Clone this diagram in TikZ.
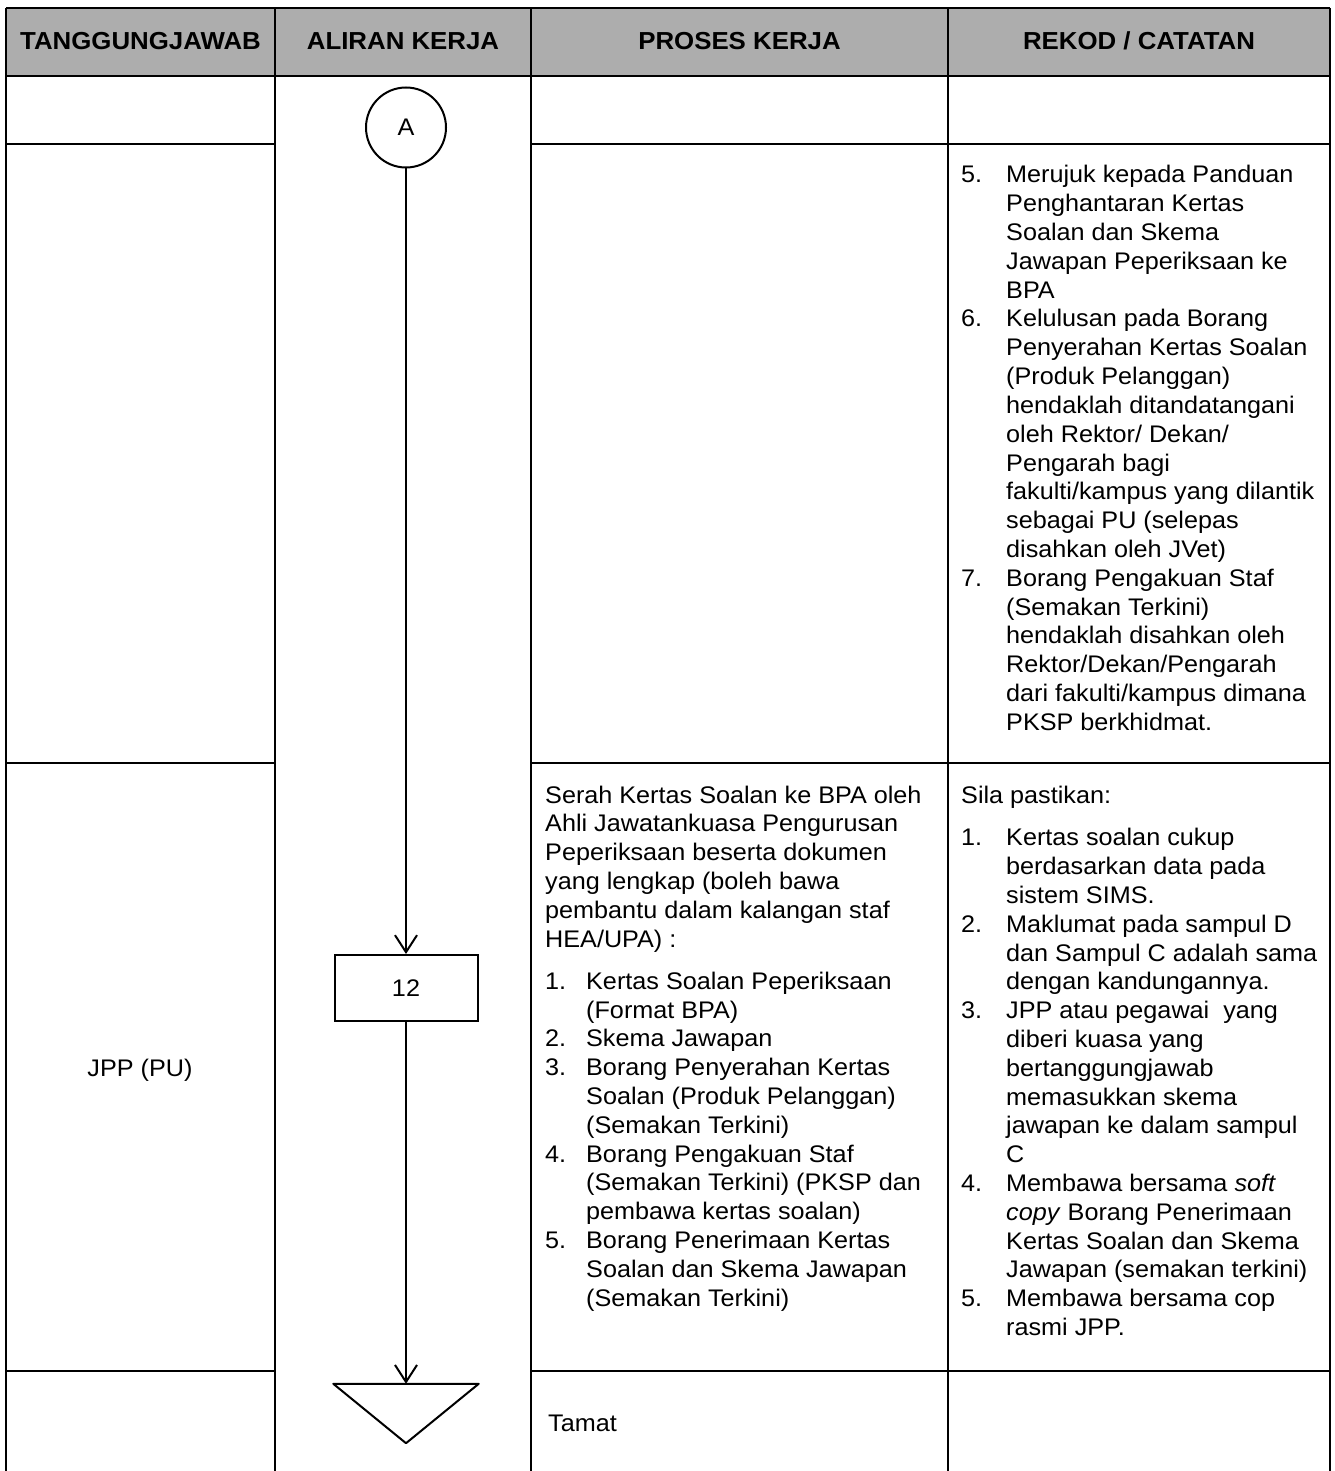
\documentclass[tikz,border=0pt]{standalone}
\usepackage{fontspec}
\setmainfont{Liberation Sans}[FakeStretch=1.05]
\usetikzlibrary{arrows.meta}
\begin{document}
\begin{tikzpicture}[x=1pt,y=-1pt,
  tbl/.style={line width=2pt},
  flow/.style={line width=2pt},
  txt/.style={inner sep=0pt, font=\fontsize{24}{28.8}\selectfont},
  hdr/.style={inner sep=0pt, font=\fontsize{24.6}{28.8}\selectfont\bfseries, anchor=base},
  arr/.style={flow, -{Straight Barb[length=17pt,width=22pt]}},
  shape1/.style={draw, line width=2pt, inner sep=0pt, font=\fontsize{24}{28.8}\selectfont},
]
\useasboundingbox (0,0) rectangle (1334,1471);
% header
\fill[black!32] (6,8) rectangle (1330,76);
\draw[tbl] (6,8) -- (1330,8);
\draw[tbl] (6,76) -- (1330,76);
\foreach \x in {6,275,531,948,1330} \draw[tbl] (\x,8) -- (\x,1471);
\foreach \y in {144,763,1371} {
  \draw[tbl] (6,\y) -- (275,\y);
  \draw[tbl] (531,\y) -- (1330,\y);
}
\node[hdr] (h1) at (140.5,50) {TANGGUNGJAWAB};
\node[hdr] (h2) at (403,50) {ALIRAN KERJA};
\node[hdr] (h3) at (739.5,50) {PROSES KERJA};
\node[hdr] (h4) at (1139,50) {REKOD / CATATAN};

% flow shapes
\node[shape1, circle, minimum size=80pt] (A) at (406,127.5) {A};
\node[shape1, rectangle, minimum width=143pt, minimum height=66pt] (b12) at (406,988) {12};
\node[inner sep=0pt, minimum width=145pt, minimum height=59pt] (tri) at (406,1413.5) {};
\draw[flow, line join=round] (tri.north west) -- (tri.north east) -- (tri.south) -- cycle;
\draw[arr] (A) -- (b12);
\draw[arr] (b12) -- (tri.north);

% responsibility
\node[txt, anchor=base] (jpp) at (140,1076) {JPP (PU)};

% row 2 rekod
\node[txt, anchor=base west] (r2) at (961,183) {\begin{tabular}[t]{@{}p{45pt}@{}l@{}}
5. & Merujuk kepada Panduan\\
 & Penghantaran Kertas\\
 & Soalan dan Skema\\
 & Jawapan Peperiksaan ke\\
 & BPA\\
6. & Kelulusan pada Borang\\
 & Penyerahan Kertas Soalan\\
 & (Produk Pelanggan)\\
 & hendaklah ditandatangani\\
 & oleh Rektor/ Dekan/\\
 & Pengarah bagi\\
 & fakulti/kampus yang dilantik\\
 & sebagai PU (selepas\\
 & disahkan oleh JVet)\\
7. & Borang Pengakuan Staf\\
 & (Semakan Terkini)\\
 & hendaklah disahkan oleh\\
 & Rektor/Dekan/Pengarah\\
 & dari fakulti/kampus dimana\\
 & PKSP berkhidmat.
\end{tabular}};

% row 3 proses
\node[txt, anchor=base west] (p3) at (545,803) {\begin{tabular}[t]{@{}p{41pt}@{}l@{}}
\multicolumn{2}{@{}l@{}}{Serah Kertas Soalan ke BPA oleh}\\
\multicolumn{2}{@{}l@{}}{Ahli Jawatankuasa Pengurusan}\\
\multicolumn{2}{@{}l@{}}{Peperiksaan beserta dokumen}\\
\multicolumn{2}{@{}l@{}}{yang lengkap (boleh bawa}\\
\multicolumn{2}{@{}l@{}}{pembantu dalam kalangan staf}\\
\multicolumn{2}{@{}l@{}}{HEA/UPA) :}\\[13.5pt]
1. & Kertas Soalan Peperiksaan\\
 & (Format BPA)\\
2. & Skema Jawapan\\
3. & Borang Penyerahan Kertas\\
 & Soalan (Produk Pelanggan)\\
 & (Semakan Terkini)\\
4. & Borang Pengakuan Staf\\
 & (Semakan Terkini) (PKSP dan\\
 & pembawa kertas soalan)\\
5. & Borang Penerimaan Kertas\\
 & Soalan dan Skema Jawapan\\
 & (Semakan Terkini)
\end{tabular}};

% row 3 rekod
\node[txt, anchor=base west] (r3) at (961,803) {\begin{tabular}[t]{@{}p{45pt}@{}l@{}}
\multicolumn{2}{@{}l@{}}{Sila pastikan:}\\[14pt]
1. & Kertas soalan cukup\\
 & berdasarkan data pada\\
 & sistem SIMS.\\
2. & Maklumat pada sampul D\\
 & dan Sampul C adalah sama\\
 & dengan kandungannya.\\
3. & JPP atau pegawai\ \ yang\\
 & diberi kuasa yang\\
 & bertanggungjawab\\
 & memasukkan skema\\
 & jawapan ke dalam sampul\\
 & C\\
4. & Membawa bersama \textit{soft}\\
 & \textit{copy} Borang Penerimaan\\
 & Kertas Soalan dan Skema\\
 & Jawapan (semakan terkini)\\
5. & Membawa bersama cop\\
 & rasmi JPP.
\end{tabular}};

% row 4
\node[txt, anchor=base west] (tamat) at (548,1431) {Tamat};
\end{tikzpicture}
\end{document}
